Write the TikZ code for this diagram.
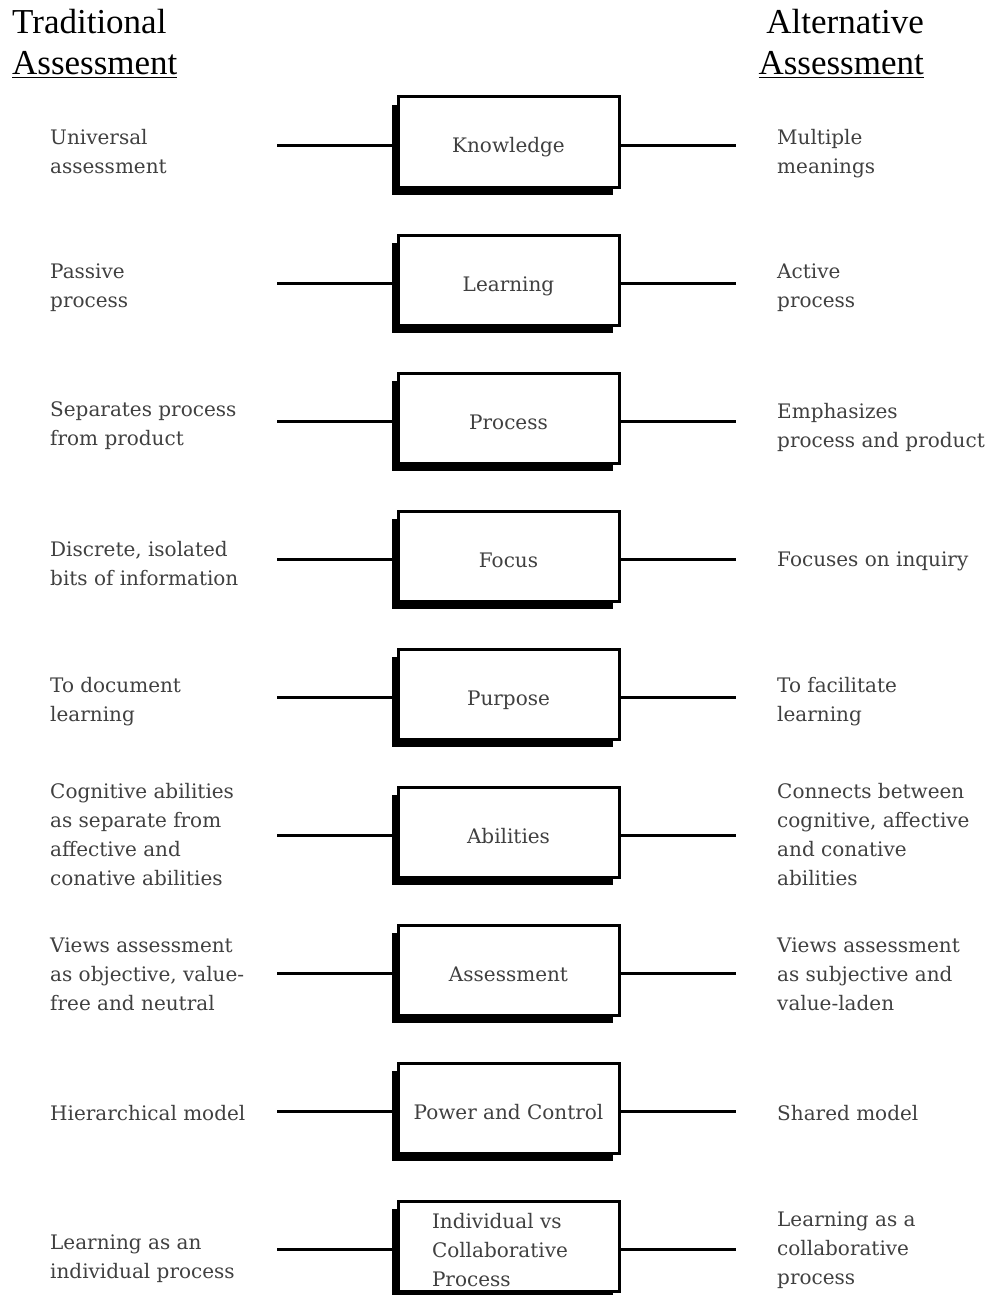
\documentclass[tikz,border=0pt]{standalone}
\usepackage{fontspec}
\usetikzlibrary{shadows}
\setmainfont{Liberation Serif}
\newfontfamily\bodyfam{DejaVu Serif}
\definecolor{txt}{HTML}{404040}
\newcommand{\bodyfont}{\bodyfam\fontsize{20}{29}\selectfont}
\newcommand{\bt}[2][-11pt]{\smash{\raisebox{#1}{#2}}}
\begin{document}
\begin{tikzpicture}[x=1pt,y=-1pt,
  stepbox/.style={draw, line width=3pt, fill=white, minimum width=221pt, minimum height=90pt,
    drop shadow={shadow xshift=-6pt, shadow yshift=-8pt, fill=black, opacity=1},
    font=\bodyfont, text=txt},
  lt/.style={anchor=west, align=left, inner sep=0pt, font=\bodyfont, text=txt},
  hdr/.style={inner sep=0pt, font=\rmfamily\fontsize{35}{41}\selectfont},
  conn/.style={line width=3pt}]
\useasboundingbox (0,0) rectangle (989,1295);
% headers
\node[hdr, anchor=base west] (h1) at (12,34) {Traditional};
\node[hdr, anchor=base west] (h2) at (12,75) {\underline{Assessment}};
\node[hdr, anchor=base east] (h3) at (924,34) {Alternative};
\node[hdr, anchor=base east] (h4) at (924,75) {\underline{Assessment}};
% boxes
\node[stepbox] (b1) at (508.5,142) {\bt{Knowledge}};
\node[stepbox] (b2) at (508.5,280) {\bt{Learning}};
\node[stepbox] (b3) at (508.5,418) {\bt{Process}};
\node[stepbox] (b4) at (508.5,556) {\bt{Focus}};
\node[stepbox] (b5) at (508.5,694) {\bt{Purpose}};
\node[stepbox] (b6) at (508.5,832) {\bt{Abilities}};
\node[stepbox] (b7) at (508.5,970) {\bt{Assessment}};
\node[stepbox] (b8) at (508.5,1108) {\bt{Power and Control}};
\node[stepbox] (b9) at (508.5,1246) {\bt[-40pt]{\parbox[b]{153pt}{\raggedright Individual vs\\Collaborative\\Process}}};
% left texts
\node[lt] (l1) at (50,152) {Universal\\assessment};
\node[lt] (l2) at (50,288) {Passive\\process};
\node[lt] (l3) at (50,426) {Separates process\\from product};
\node[lt] (l4) at (50,564) {Discrete, isolated\\bits of information};
\node[lt] (l5) at (50,702) {To document\\learning};
\node[lt] (l6) at (50,835) {Cognitive abilities\\as separate from\\affective and\\conative abilities};
\node[lt] (l7) at (50,974) {Views assessment\\as objective, value-\\free and neutral};
\node[lt] (l8) at (50,1113) {Hierarchical model};
\node[lt] (l9) at (50,1259) {Learning as an\\individual process};
% right texts
\node[lt] (r1) at (777,154) {Multiple\\meanings};
\node[lt] (r2) at (777,288) {Active\\process};
\node[lt] (r3) at (777,427) {Emphasizes\\process and product};
\node[lt] (r4) at (777,561) {Focuses on inquiry};
\node[lt] (r5) at (777,702) {To facilitate\\learning};
\node[lt] (r6) at (777,835) {Connects between\\cognitive, affective\\and conative\\abilities};
\node[lt] (r7) at (777,974) {Views assessment\\as subjective and\\value-laden};
\node[lt] (r8) at (777,1113) {Shared model};
\node[lt] (r9) at (777,1250) {Learning as a\\collaborative\\process};
% connectors
\foreach \i/\y in {1/145,2/283,3/421,4/559,5/697,6/835,7/973,8/1111,9/1249}{
  \coordinate (pl\i) at (277,\y);
  \coordinate (pr\i) at (736,\y);
  \draw[conn] (pl\i) -- (pl\i -| b\i.west);
  \draw[conn] (pr\i -| b\i.east) -- (pr\i);
}
\end{tikzpicture}
\end{document}
